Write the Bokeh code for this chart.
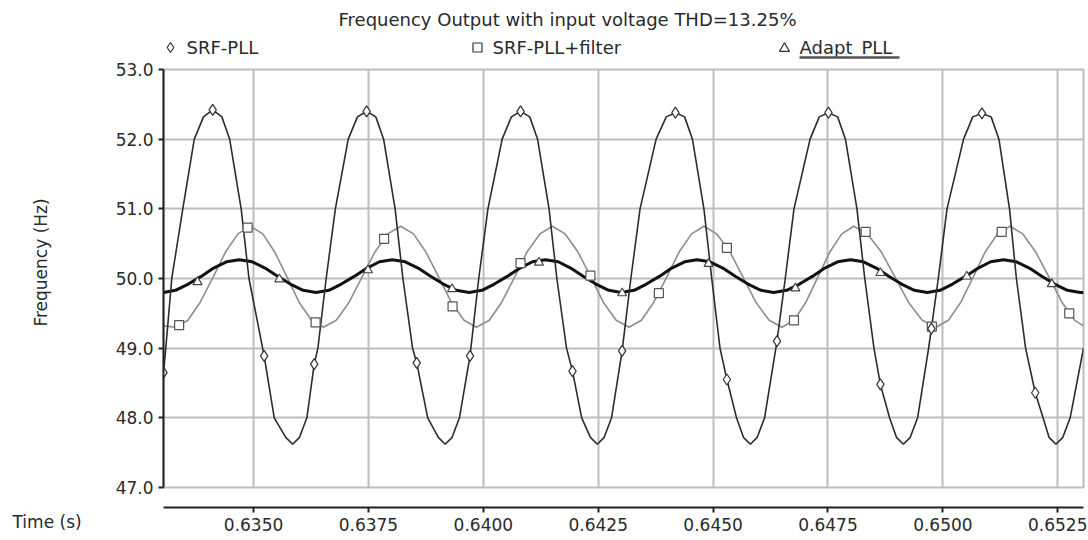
import math
from bokeh.plotting import figure
from bokeh.models import Range1d, FixedTicker, NumeralTickFormatter
from bokeh.layouts import column, row
from bokeh.core.properties import value
from bokeh.embed import file_html
from bokeh.resources import INLINE

# ---------------- data ----------------
title_text = "Frequency Output with input voltage THD=13.25%"
series_names = ["SRF-PLL", "SRF-PLL+filter", "Adapt_PLL"]
series_markers = ["diamond", "square", "triangle"]
y_ticks = [47.0, 48.0, 49.0, 50.0, 51.0, 52.0, 53.0]
x_ticks = [0.6350, 0.6375, 0.6400, 0.6425, 0.6450, 0.6475, 0.6500, 0.6525]
x_tick_labels = ["0.6350", "0.6375", "0.6400", "0.6425", "0.6450", "0.6475", "0.6500", "0.6525"]
x_label = "Time (s)"
y_label = "Frequency (Hz)"

srf_t = [0.63304, 0.63309, 0.63322, 0.63346, 0.63371, 0.63391, 0.63411,
         0.63431, 0.63448, 0.63473, 0.63490, 0.63523, 0.63545, 0.63570, 0.63585,
         0.63600, 0.63616, 0.63632, 0.63640, 0.63658, 0.63678, 0.63706, 0.63726, 0.63746,
         0.63766, 0.63783, 0.63808, 0.63825, 0.63846, 0.63855, 0.63879, 0.63902, 0.63917,
         0.63932, 0.63948, 0.63971, 0.63990, 0.64010, 0.64041, 0.64061, 0.64081,
         0.64101, 0.64118, 0.64143, 0.64160, 0.64181, 0.64194, 0.64214, 0.64233, 0.64248,
         0.64263, 0.64279, 0.64302, 0.64321, 0.64341, 0.64376, 0.64398, 0.64418,
         0.64438, 0.64455, 0.64480, 0.64497, 0.64515, 0.64530, 0.64551, 0.64566, 0.64581,
         0.64596, 0.64612, 0.64639, 0.64657, 0.64676, 0.64711, 0.64731, 0.64751,
         0.64771, 0.64788, 0.64813, 0.64830, 0.64850, 0.64864, 0.64884, 0.64899, 0.64914,
         0.64929, 0.64945, 0.64969, 0.64975, 0.64990, 0.65009, 0.65045, 0.65065, 0.65085,
         0.65105, 0.65122, 0.65145, 0.65160, 0.65180, 0.65201, 0.65218, 0.65231, 0.65246,
         0.65261, 0.65277, 0.65306]
srf_f = [48.65, 49.0, 50.0, 51.0, 52.0, 52.32, 52.42,
         52.32, 52.0, 51.0, 50.0, 48.89, 48.0, 47.72, 47.62,
         47.72, 48.0, 48.77, 49.0, 50.0, 51.0, 52.0, 52.32, 52.40,
         52.32, 52.0, 51.0, 50.0, 49.0, 48.79, 48.0, 47.72, 47.62,
         47.72, 48.0, 48.89, 50.0, 51.0, 52.0, 52.32, 52.40,
         52.32, 52.0, 51.0, 50.0, 49.0, 48.67, 48.0, 47.72, 47.62,
         47.72, 48.0, 48.96, 50.0, 51.0, 52.0, 52.32, 52.38,
         52.32, 52.0, 51.0, 50.0, 49.0, 48.55, 48.0, 47.72, 47.62,
         47.72, 48.0, 49.10, 50.0, 51.0, 52.0, 52.32, 52.38,
         52.32, 52.0, 51.0, 50.0, 49.0, 48.48, 48.0, 47.72, 47.62,
         47.72, 48.0, 49.0, 49.28, 50.0, 51.0, 52.0, 52.32, 52.37,
         52.32, 52.0, 51.0, 50.0, 49.0, 48.36, 48.0, 47.72, 47.62,
         47.72, 48.0, 49.0]
srf_mk_t = [0.63304, 0.63411, 0.63523, 0.63632, 0.63746, 0.63855, 0.63971, 0.64081, 0.64194,
            0.64302, 0.64418, 0.64530, 0.64639, 0.64751, 0.64864, 0.64975, 0.65085, 0.65201]
srf_mk_f = [48.65, 52.42, 48.89, 48.77, 52.40, 48.79, 48.89, 52.40, 48.67,
            48.96, 52.38, 48.55, 49.10, 52.38, 48.48, 49.28, 52.37, 48.36]

flt_t = [0.63304, 0.63330, 0.63357, 0.63384, 0.63412, 0.63439, 0.63466, 0.63493,
         0.63520, 0.63546, 0.63573, 0.63599, 0.63626, 0.63652,
         0.63680, 0.63708, 0.63736, 0.63764, 0.63792, 0.63820,
         0.63848, 0.63875, 0.63903, 0.63930, 0.63958, 0.63985,
         0.64013, 0.64040, 0.64068, 0.64095, 0.64123, 0.64150,
         0.64178, 0.64206, 0.64234, 0.64261, 0.64289, 0.64317,
         0.64344, 0.64371, 0.64399, 0.64426, 0.64453, 0.64480,
         0.64508, 0.64537, 0.64565, 0.64593, 0.64622, 0.64650,
         0.64676, 0.64702, 0.64728, 0.64754, 0.64780, 0.64806,
         0.64836, 0.64866, 0.64896, 0.64925, 0.64955, 0.64985,
         0.65012, 0.65039, 0.65066, 0.65092, 0.65119, 0.65146,
         0.65174, 0.65202, 0.65231, 0.65259, 0.65287, 0.65306]
flt_f = [49.32, 49.30, 49.40, 49.66, 50.02, 50.38, 50.64, 50.75,
         50.64, 50.38, 50.02, 49.66, 49.40, 49.30,
         49.40, 49.66, 50.02, 50.38, 50.64, 50.75,
         50.64, 50.38, 50.02, 49.66, 49.40, 49.30,
         49.40, 49.66, 50.02, 50.38, 50.64, 50.75,
         50.64, 50.38, 50.02, 49.66, 49.40, 49.30,
         49.40, 49.66, 50.02, 50.38, 50.64, 50.75,
         50.64, 50.38, 50.02, 49.66, 49.40, 49.30,
         49.40, 49.66, 50.02, 50.38, 50.64, 50.75,
         50.64, 50.38, 50.02, 49.66, 49.40, 49.30,
         49.40, 49.66, 50.02, 50.38, 50.64, 50.75,
         50.64, 50.38, 50.02, 49.66, 49.40, 49.32]
flt_mk_t = [0.63338, 0.63487, 0.63635, 0.63784, 0.63933, 0.64081, 0.64233,
            0.64382, 0.64530, 0.64676, 0.64832, 0.64976, 0.65128, 0.65275]
flt_mk_f = [49.33, 50.73, 49.37, 50.57, 49.60, 50.22, 50.04,
            49.79, 50.44, 49.40, 50.67, 49.31, 50.67, 49.50]

apl_t = [0.63304, 0.63330, 0.63358, 0.63386, 0.63413, 0.63441, 0.63469,
         0.63497, 0.63525, 0.63553, 0.63580, 0.63608, 0.63636,
         0.63664, 0.63691, 0.63719, 0.63747, 0.63774, 0.63802,
         0.63830, 0.63858, 0.63886, 0.63913, 0.63941, 0.63969,
         0.63997, 0.64024, 0.64052, 0.64080, 0.64107, 0.64135,
         0.64163, 0.64190, 0.64218, 0.64245, 0.64273, 0.64300,
         0.64328, 0.64355, 0.64383, 0.64410, 0.64438, 0.64465,
         0.64493, 0.64521, 0.64549, 0.64576, 0.64604, 0.64632,
         0.64660, 0.64688, 0.64716, 0.64743, 0.64771, 0.64799,
         0.64827, 0.64855, 0.64883, 0.64910, 0.64938, 0.64966,
         0.64994, 0.65021, 0.65049, 0.65077, 0.65104, 0.65132,
         0.65160, 0.65188, 0.65216, 0.65243, 0.65271, 0.65299, 0.65306]
apl_f = [49.80, 49.83, 49.92, 50.03, 50.15, 50.24, 50.27,
         50.24, 50.15, 50.03, 49.92, 49.83, 49.80,
         49.83, 49.92, 50.03, 50.15, 50.24, 50.27,
         50.24, 50.15, 50.03, 49.92, 49.83, 49.80,
         49.83, 49.92, 50.03, 50.15, 50.24, 50.27,
         50.24, 50.15, 50.03, 49.92, 49.83, 49.80,
         49.83, 49.92, 50.03, 50.15, 50.24, 50.27,
         50.24, 50.15, 50.03, 49.92, 49.83, 49.80,
         49.83, 49.92, 50.03, 50.15, 50.24, 50.27,
         50.24, 50.15, 50.03, 49.92, 49.83, 49.80,
         49.83, 49.92, 50.03, 50.15, 50.24, 50.27,
         50.24, 50.15, 50.03, 49.92, 49.83, 49.80, 49.80]
apl_mk_t = [0.63378, 0.63556, 0.63749, 0.63932, 0.64121, 0.64302,
            0.64490, 0.64679, 0.64864, 0.65052, 0.65237]
apl_mk_f = [49.95, 49.99, 50.12, 49.85, 50.23, 49.79,
            50.21, 49.86, 50.08, 50.03, 49.92]

# ---------------- layout / style constants ----------------
X0, X1 = 0.63304, 0.65306
Y0, Y1 = 47.0, 53.0
W, H = 1088, 540
LEFT_W = 100            # strip holding the rotated y title and "Time (s)"
AXIS_W = 63             # y axis panel inside the main figure
HDR_H = 59
MAIN_TOP, MAIN_FRAME, MAIN_BOT = 10, 418, 18
MAIN_H = MAIN_TOP + MAIN_FRAME + MAIN_BOT
BOT_H = H - HDR_H - MAIN_H
FONT = "DejaVu Sans"
TXT = "#2a2a2a"
GRID = "#bdbdbd"
AX = "#222222"


def blank(fig):
    fig.background_fill_color = "white"
    fig.border_fill_color = "white"
    fig.outline_line_color = None
    fig.xgrid.visible = False
    fig.ygrid.visible = False
    return fig


def text_kw(size, align="left"):
    return dict(text_font=value(FONT), text_font_size=value(size), text_color=TXT,
                text_align=align, text_baseline="middle")


# ---------- header: title + legend row ----------
hdr = blank(figure(width=W, height=HDR_H, x_range=Range1d(0, W), y_range=Range1d(HDR_H, 0),
                   output_backend="svg", toolbar_location=None, x_axis_location=None,
                   y_axis_location=None, min_border=0))
hdr.text(x=[567], y=[19], text=[title_text], **text_kw("18px", "center"))
sym_x = [170, 477, 784]
name_x = [186, 492, 799]
hdr.scatter(x=sym_x, y=[47, 47, 48], marker=series_markers, size=[10, 9, 10],
            line_color="#333333", fill_color="white", line_width=1.2)
hdr.text(x=name_x, y=[47, 47, 47], text=series_names, **text_kw("18px"))
hdr.segment(x0=[name_x[2]], y0=[57], x1=[name_x[2] + 100], y1=[57],
            line_color="#555555", line_width=2.5)

# ---------- left strip: rotated y title and the time label ----------
lft = blank(figure(width=LEFT_W, height=MAIN_H + BOT_H, x_range=Range1d(0, LEFT_W),
                   y_range=Range1d(H, HDR_H), output_backend="svg",
                   toolbar_location=None, x_axis_location=None, y_axis_location=None,
                   min_border=0))
lft.text(x=[40], y=[262], text=[y_label], angle=math.pi / 2, **text_kw("17px", "center"))
lft.text(x=[12], y=[521], text=[x_label], **text_kw("17px"))

# ---------- main plot ----------
p = figure(width=W - LEFT_W, height=MAIN_H, x_range=Range1d(X0, X1), y_range=Range1d(Y0, Y1),
           output_backend="svg", toolbar_location=None, x_axis_location=None,
           min_border_left=AXIS_W, min_border_right=5, min_border_top=MAIN_TOP,
           min_border_bottom=MAIN_BOT)
p.background_fill_color = "white"
p.border_fill_color = "white"
p.outline_line_color = GRID
p.outline_line_width = 2
p.xgrid.ticker = FixedTicker(ticks=x_ticks)
p.ygrid.ticker = FixedTicker(ticks=y_ticks)
for g in (p.xgrid, p.ygrid):
    g.grid_line_color = GRID
    g.grid_line_width = 2

ya = p.yaxis[0]
ya.ticker = FixedTicker(ticks=y_ticks)
ya.formatter = NumeralTickFormatter(format="0.0")
ya.axis_line_color = AX
ya.axis_line_width = 2
ya.major_tick_line_color = AX
ya.major_tick_line_width = 2
ya.major_tick_out = 5
ya.major_tick_in = 0
ya.minor_tick_line_color = None
ya.major_label_standoff = 5
ya.major_label_text_font = FONT
ya.major_label_text_font_size = "17px"
ya.major_label_text_color = TXT

p.line(flt_t, flt_f, line_color="#8e8e8e", line_width=1.6)
p.line(apl_t, apl_f, line_color="#111111", line_width=3)
p.line(srf_t, srf_f, line_color="#2c2c2c", line_width=1.6)
p.scatter(flt_mk_t, flt_mk_f, marker=series_markers[1], size=9, line_color="#555555",
          fill_color="white", line_width=1.2)
p.scatter(apl_mk_t, apl_mk_f, marker=series_markers[2], size=9, line_color="#444444",
          fill_color="white", line_width=1.2)
p.scatter(srf_mk_t, srf_mk_f, marker=series_markers[0], size=11, line_color="#333333",
          fill_color="white", line_width=1.2)

# ---------- detached time axis ----------
p2 = blank(figure(width=W - LEFT_W, height=BOT_H, x_range=p.x_range, y_range=Range1d(0, 1),
                  output_backend="svg", toolbar_location=None, y_axis_location=None,
                  min_border_left=AXIS_W, min_border_right=5, min_border_top=0,
                  min_border_bottom=BOT_H - 2))
xa = p2.xaxis[0]
xa.ticker = FixedTicker(ticks=x_ticks)
xa.major_label_overrides = {t: l for t, l in zip(x_ticks, x_tick_labels)}
xa.axis_line_color = AX
xa.axis_line_width = 2
xa.major_tick_line_color = AX
xa.major_tick_line_width = 2
xa.major_tick_out = 5
xa.major_tick_in = 0
xa.minor_tick_line_color = None
xa.major_label_standoff = 5
xa.major_label_text_font = FONT
xa.major_label_text_font_size = "17px"
xa.major_label_text_color = TXT

layout = column(hdr, row(lft, column(p, p2, spacing=0), spacing=0), spacing=0)
open("out.html", "w").write(file_html(layout, INLINE))
